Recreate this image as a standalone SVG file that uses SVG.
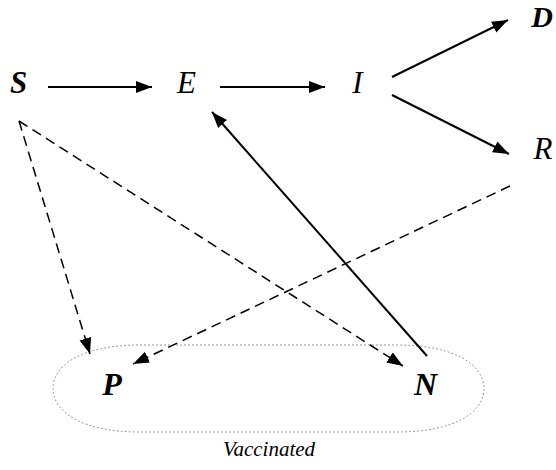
<svg xmlns="http://www.w3.org/2000/svg" width="556" height="470" viewBox="0 0 556 470">
<style>
.lbl{font-family:"Liberation Serif","DejaVu Serif",serif;font-style:italic;fill:#000;text-anchor:middle}
.b{font-weight:bold}
.solid{stroke:#000;stroke-width:2;fill:none}
.dash{stroke:#000;stroke-width:1.5;fill:none;stroke-dasharray:10,6}
.cluster{fill:none;stroke:#999;stroke-width:1;stroke-dasharray:2,2}
</style>
<defs>
<marker id="ah" markerUnits="userSpaceOnUse" markerWidth="18" markerHeight="14" refX="16" refY="6" orient="auto">
<path d="M0,0 L16,6 L0,12 z" fill="#000"/>
</marker>
</defs>
<rect width="556" height="470" fill="#fff"/>
<g id="vaccinated">
<path class="cluster" d="M140,345 H397 C455,345 484,365 484,388.5 C484,412 455,432 397,432 H140 C82,432 53,412 53,388.5 C53,365 82,345 140,345 Z"/>
<text class="lbl" x="269" y="456" font-size="21">Vaccinated</text>
</g>
<g id="connectors">
<line class="solid" x1="48" y1="87" x2="152" y2="87" marker-end="url(#ah)"/>
<line class="solid" x1="220" y1="87" x2="325" y2="87" marker-end="url(#ah)"/>
<line class="solid" x1="392" y1="77" x2="508" y2="20" marker-end="url(#ah)"/>
<line class="solid" x1="392" y1="95" x2="509" y2="154" marker-end="url(#ah)"/>
<line class="solid" x1="427" y1="356" x2="212" y2="112" marker-end="url(#ah)"/>
<line class="dash" x1="19" y1="121" x2="90" y2="354" marker-end="url(#ah)"/>
<line class="dash" x1="19" y1="121" x2="403" y2="366" marker-end="url(#ah)"/>
<line class="dash" x1="510" y1="186" x2="133" y2="364" marker-end="url(#ah)"/>
</g>
<g id="S"><text class="lbl b" x="18.5" y="93" font-size="31">S</text></g>
<g id="E"><text class="lbl" x="186.5" y="93" font-size="31">E</text></g>
<g id="I"><text class="lbl" x="357.5" y="93" font-size="31">I</text></g>
<g id="D"><text class="lbl b" x="542" y="27" font-size="30">D</text></g>
<g id="R"><text class="lbl" x="543" y="159" font-size="31">R</text></g>
<g id="P"><text class="lbl b" x="112" y="395" font-size="32">P</text></g>
<g id="N"><text class="lbl b" x="425.5" y="395" font-size="32">N</text></g>
</svg>
